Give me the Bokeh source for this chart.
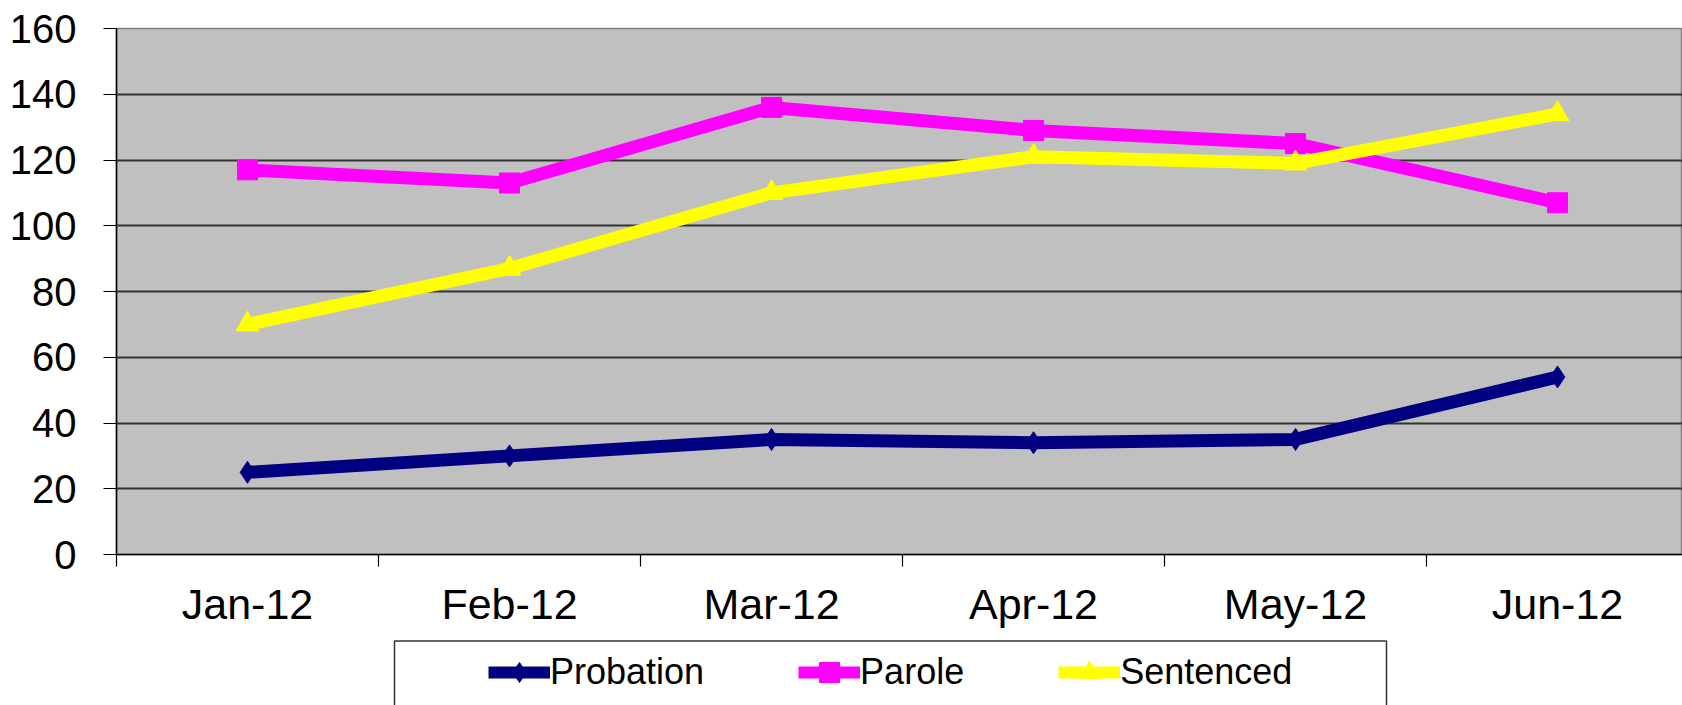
from bokeh.plotting import figure
from bokeh.layouts import column
from bokeh.models import Range1d, FixedTicker, Legend, LegendItem, BoxAnnotation
from bokeh.embed import file_html
from bokeh.resources import INLINE

months = ["Jan-12", "Feb-12", "Mar-12", "Apr-12", "May-12", "Jun-12"]
probation = [25, 30, 35, 34, 35, 54]
parole = [117, 113, 136, 129, 125, 107]
sentenced = [70, 87, 110, 121, 119, 134]
y_ticks = [0, 20, 40, 60, 80, 100, 120, 140, 160]

xs = list(range(1, len(months) + 1))
FONT = "Liberation Sans"
LEFT = 116

p = figure(width=1682, height=639, output_backend="svg", toolbar_location=None,
           x_range=Range1d(0.5, 6.477), y_range=Range1d(0, 160),
           min_border_left=LEFT, min_border_right=0, min_border_top=28,
           min_border_bottom=85)
p.background_fill_color = "#C0C0C0"
p.border_fill_color = "white"
p.outline_line_color = "#808080"
p.outline_line_width = 1.5

# x axis: labels at category centres, tick marks at category boundaries
p.xaxis.ticker = FixedTicker(ticks=xs, minor_ticks=[x - 0.5 for x in xs] + [xs[-1] + 0.5])
p.xaxis.major_label_overrides = {x: m for x, m in zip(xs, months)}
p.xaxis.major_tick_in = 0
p.xaxis.major_tick_out = 0
p.xaxis.minor_tick_in = 0
p.xaxis.minor_tick_out = 12
p.xaxis.minor_tick_line_color = "black"
p.xaxis.minor_tick_line_width = 1.2
p.xaxis.axis_line_color = "black"
p.xaxis.axis_line_width = 1.5
p.xaxis.major_label_text_font = FONT
p.xaxis.major_label_text_font_size = "43px"
p.xaxis.major_label_text_color = "black"
p.xaxis.major_label_standoff = 13

p.yaxis.ticker = FixedTicker(ticks=y_ticks)
p.yaxis.major_tick_in = 0
p.yaxis.major_tick_out = 13
p.yaxis.minor_tick_line_color = None
p.yaxis.major_tick_line_color = "black"
p.yaxis.major_tick_line_width = 1.2
p.yaxis.axis_line_color = "black"
p.yaxis.axis_line_width = 1.5
p.yaxis.major_label_text_font = FONT
p.yaxis.major_label_text_font_size = "40px"
p.yaxis.major_label_text_color = "black"
p.yaxis.major_label_standoff = 27

p.xgrid.grid_line_color = None
p.ygrid.ticker = FixedTicker(ticks=y_ticks[1:-1])
p.ygrid.grid_line_color = "#333333"
p.ygrid.grid_line_width = 1.8

series = [
    ("Probation", probation, "#000080", "diamond", 22),
    ("Parole", parole, "#FF00FF", "square", 20),
    ("Sentenced", sentenced, "#FFFF00", "triangle", 23),
]

# legend strip: a second, axis-less figure (its x/y ranges are in pixels)
q = figure(width=1682, height=66, output_backend="svg", toolbar_location=None,
           x_range=Range1d(LEFT, 1682), y_range=Range1d(0, 66),
           x_axis_type=None, y_axis_type=None,
           min_border_left=LEFT, min_border_right=0, min_border_top=0,
           min_border_bottom=0)
q.background_fill_color = "white"
q.border_fill_color = "white"
q.outline_line_color = None
q.xgrid.grid_line_color = None
q.ygrid.grid_line_color = None

items = []
for name, vals, color, marker, size in series:
    p.line(xs, vals, line_color=color, line_width=13)
    p.scatter(xs, vals, marker=marker, size=size, fill_color=color, line_color=color)
    # same series in the strip; they fall outside its frame and only feed the legend
    ql = q.line(xs, vals, line_color=color, line_width=12)
    qs = q.scatter(xs, vals, marker=marker, size=size, fill_color=color, line_color=color)
    items.append(LegendItem(label=name, renderers=[ql, qs]))

legend_box = BoxAnnotation(left=394, right=1386, top=64.5, bottom=-20,
                           fill_alpha=0, line_color="#333333", line_alpha=1,
                           line_width=1.5)
q.add_layout(legend_box)

legend = Legend(items=items, orientation="horizontal", location=(362, -2),
                padding=10, margin=0, spacing=94, glyph_width=62, glyph_height=50,
                label_standoff=0, label_text_font=FONT, label_text_font_size="36px",
                label_text_color="black", border_line_alpha=0, background_fill_alpha=0)
q.add_layout(legend, "center")

layout = column(p, q, spacing=0)
open("out.html", "w").write(file_html(layout, INLINE))
